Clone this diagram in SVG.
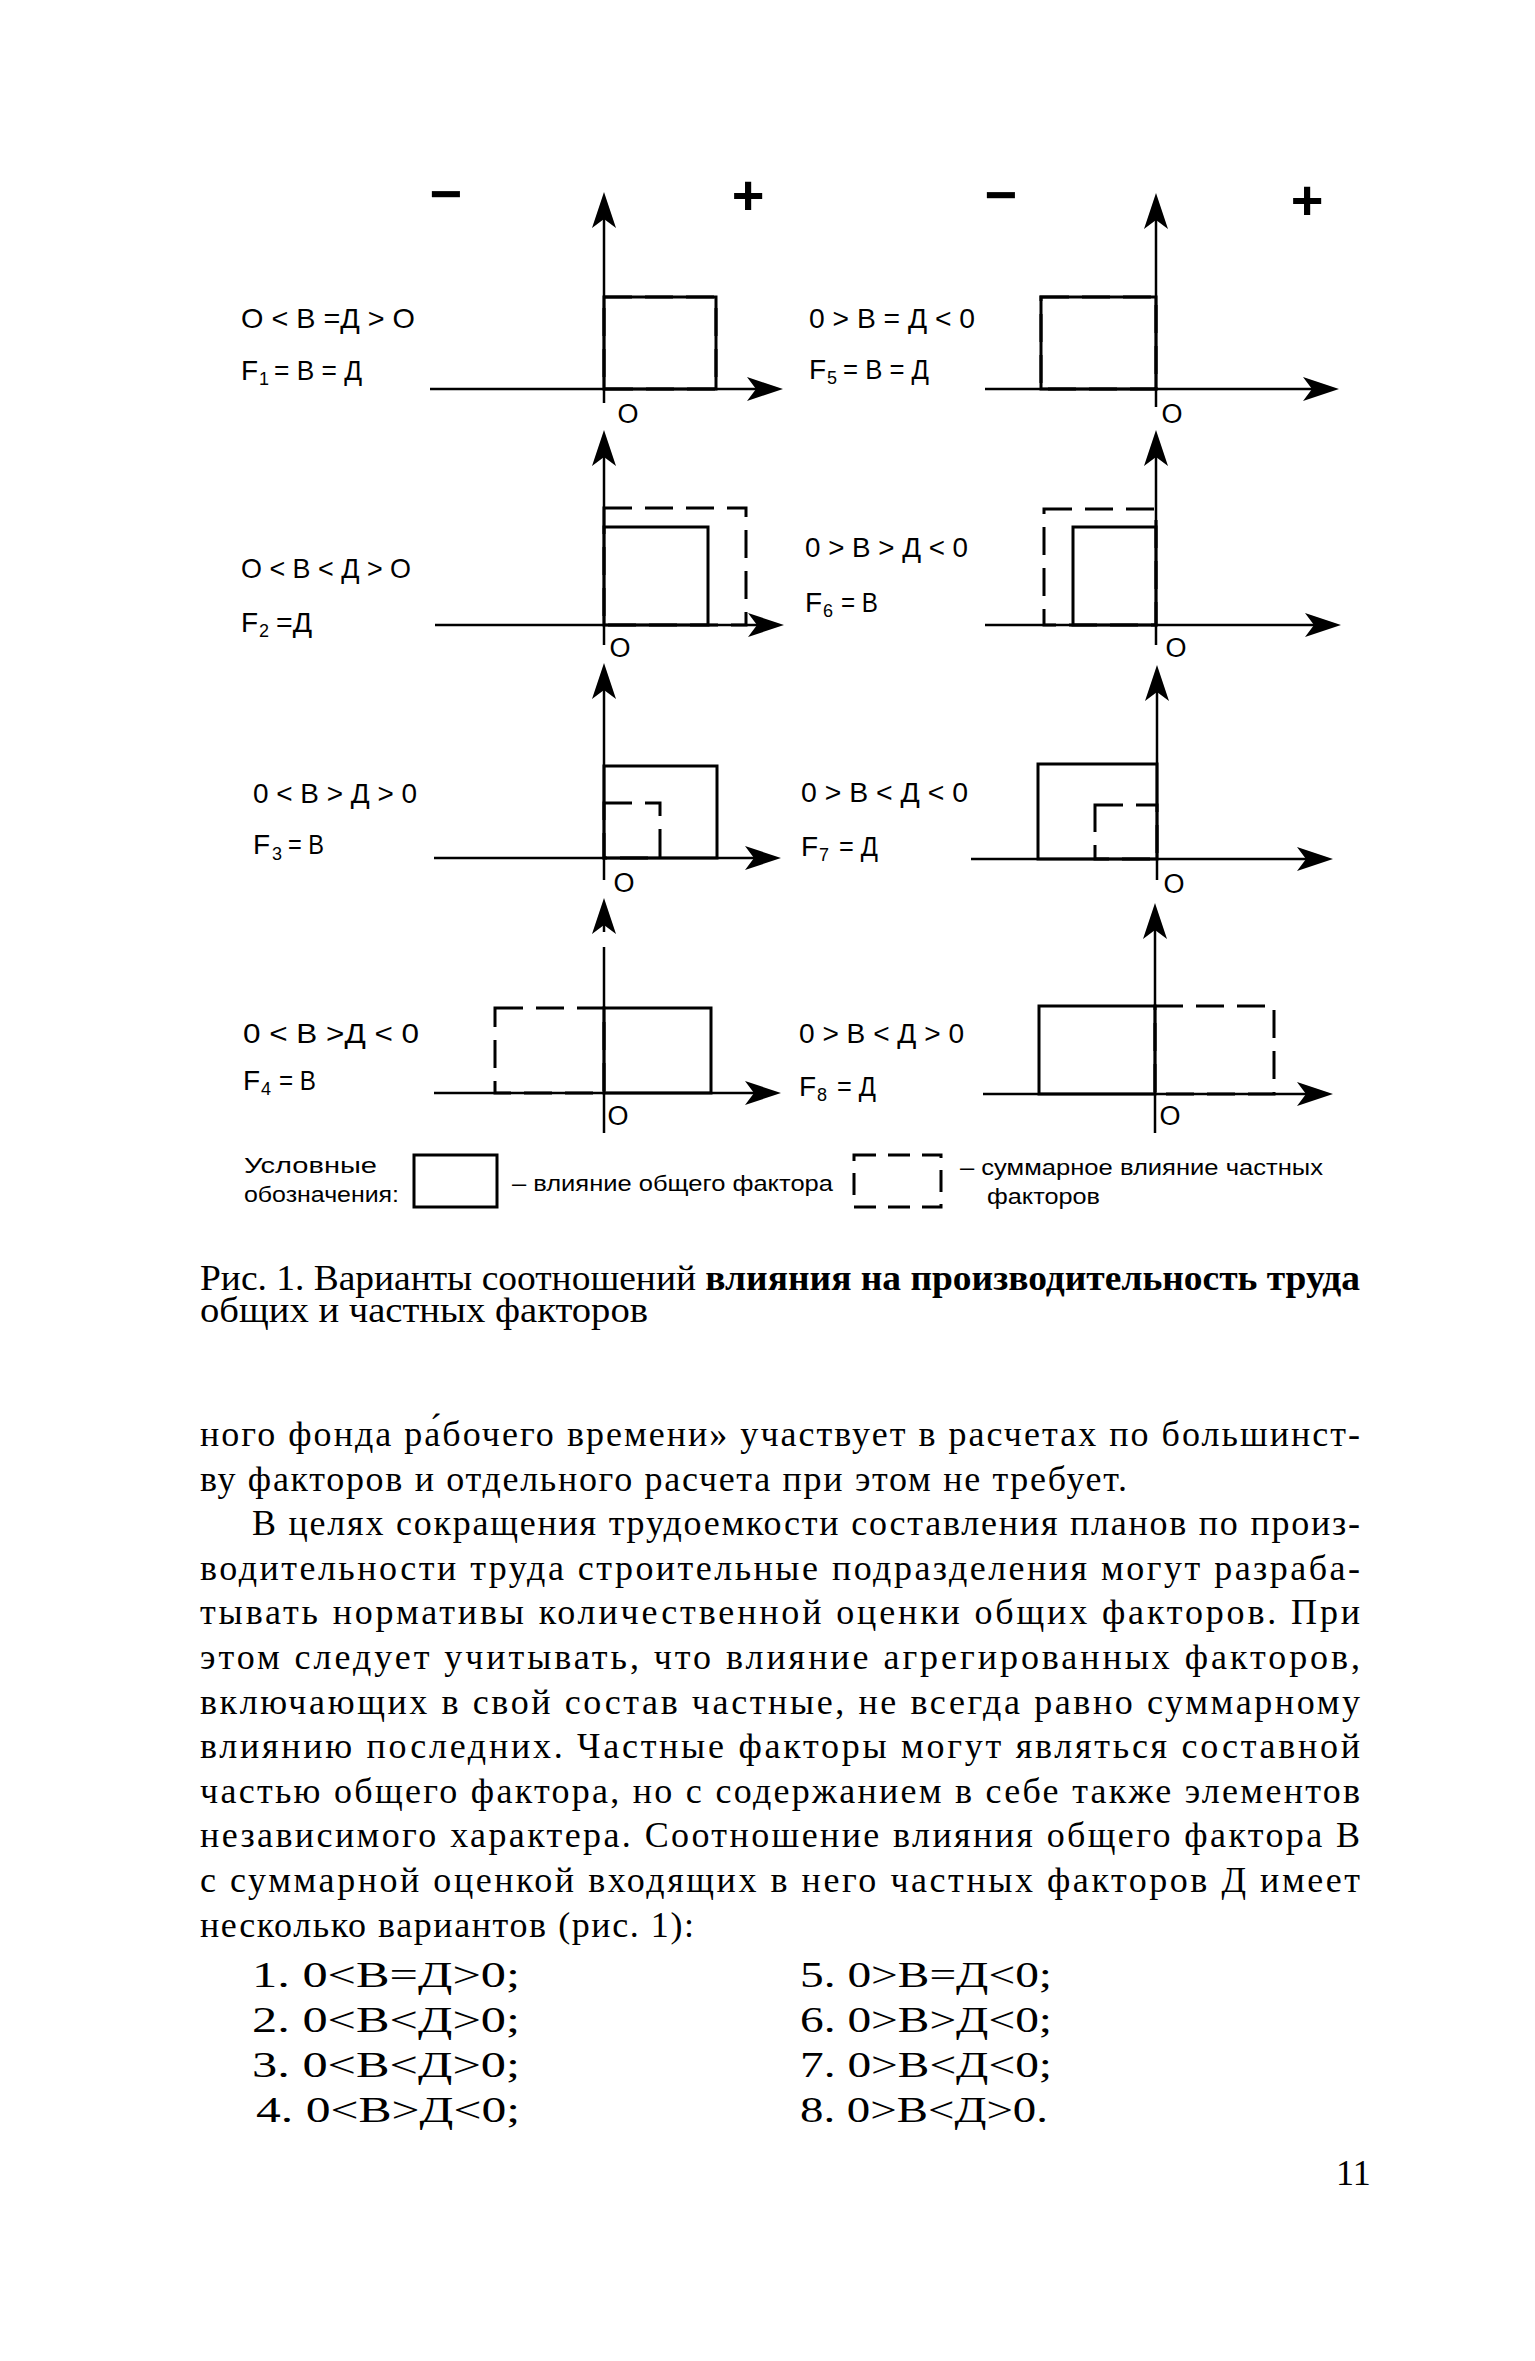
<svg xmlns="http://www.w3.org/2000/svg" width="1535" height="2361" viewBox="0 0 1535 2361">
<style>
.ax{stroke:#000;stroke-width:2.5;fill:none}
.sol{stroke:#000;stroke-width:3;fill:none}
.dsh{stroke:#000;stroke-width:3;fill:none;stroke-dasharray:28 13}
.lbl{font-family:"Liberation Sans",Arial,sans-serif;font-size:28px;fill:#000}
.sub{font-family:"Liberation Sans",Arial,sans-serif;font-size:18px;fill:#000}
.o{font-family:"Liberation Sans",Arial,sans-serif;font-size:27px;fill:#000;text-anchor:middle}
.sg{font-family:"Liberation Sans",Arial,sans-serif;font-size:56px;font-weight:bold;fill:#000;text-anchor:middle}
.leg{font-family:"Liberation Sans",Arial,sans-serif;font-size:22px;fill:#000}
.body{font-family:"Liberation Serif","Times New Roman",serif;font-size:36px;fill:#000}
.cap{font-family:"Liberation Serif","Times New Roman",serif;font-size:36px;fill:#000}
</style>
<defs>
<marker id="ah" viewBox="0 0 36 24" markerWidth="36" markerHeight="24" refX="26" refY="12" orient="auto" markerUnits="userSpaceOnUse">
<path d="M0,0 L36,12 L0,24 L9,12 Z" fill="#000"/>
</marker>
</defs>
<rect width="1535" height="2361" fill="#fff"/>

<g id="signs">
<text class="sg" x="446" y="213">−</text>
<text class="sg" x="748" y="214">+</text>
<text class="sg" x="1001" y="214">−</text>
<text class="sg" x="1307" y="219">+</text>
</g>

<g id="chart1">
<text class="lbl" x="241" y="328" textLength="174" lengthAdjust="spacingAndGlyphs">O &lt; В =Д &gt; O</text>
<text class="lbl" x="241" y="380">F</text><text class="sub" x="259" y="385">1</text>
<text class="lbl" x="274" y="380" textLength="88" lengthAdjust="spacingAndGlyphs">= В = Д</text>
<rect class="sol" x="604" y="297" width="112" height="92"/>
<rect class="dsh" x="604" y="297" width="112" height="92"/>
<text class="o" x="628" y="423">O</text>
</g>

<g id="chart2">
<text class="lbl" x="241" y="578" textLength="170" lengthAdjust="spacingAndGlyphs">O &lt; В &lt; Д &gt; O</text>
<text class="lbl" x="241" y="632">F</text><text class="sub" x="259" y="637">2</text>
<text class="lbl" x="276" y="632" textLength="36" lengthAdjust="spacingAndGlyphs">=Д</text>
<rect class="sol" x="604" y="527" width="104" height="98"/>
<rect class="dsh" x="604" y="508" width="142" height="117"/>
<text class="o" x="620" y="657">O</text>
</g>

<g id="chart3">
<text class="lbl" x="253" y="854">F</text><text class="sub" x="272" y="860">3</text>
<text class="lbl" x="288" y="854" textLength="36" lengthAdjust="spacingAndGlyphs">= В</text>
<text class="lbl" x="253" y="803" textLength="164" lengthAdjust="spacingAndGlyphs">0 &lt; В &gt; Д &gt; 0</text>
<rect class="sol" x="604" y="766" width="113" height="92"/>
<rect class="dsh" x="604" y="803" width="56" height="55"/>
<text class="o" x="624" y="892">O</text>
</g>

<g id="chart4">
<text class="lbl" x="243" y="1043" textLength="176" lengthAdjust="spacingAndGlyphs">0 &lt; В &gt;Д &lt; 0</text>
<text class="lbl" x="243" y="1090">F</text><text class="sub" x="261" y="1095">4</text>
<text class="lbl" x="279" y="1090" textLength="37" lengthAdjust="spacingAndGlyphs">= В</text>
<rect class="sol" x="604" y="1008" width="107" height="85"/>
<rect class="dsh" x="495" y="1008" width="109" height="85"/>
<text class="o" x="618" y="1125">O</text>
</g>

<g id="chart5">
<text class="lbl" x="809" y="328" textLength="166" lengthAdjust="spacingAndGlyphs">0 &gt; В = Д &lt; 0</text>
<text class="lbl" x="809" y="379">F</text><text class="sub" x="827" y="384">5</text>
<text class="lbl" x="843" y="379" textLength="86" lengthAdjust="spacingAndGlyphs">= В = Д</text>
<rect class="sol" x="1041" y="297" width="115" height="92"/>
<rect class="dsh" x="1041" y="297" width="115" height="92"/>
<text class="o" x="1172" y="423">O</text>
</g>

<g id="chart6">
<text class="lbl" x="805" y="557" textLength="163" lengthAdjust="spacingAndGlyphs">0 &gt; В &gt; Д &lt; 0</text>
<text class="lbl" x="805" y="612">F</text><text class="sub" x="823" y="617">6</text>
<text class="lbl" x="841" y="612" textLength="37" lengthAdjust="spacingAndGlyphs">= В</text>
<rect class="sol" x="1073" y="527" width="83" height="98"/>
<rect class="dsh" x="1044" y="509" width="112" height="116"/>
<text class="o" x="1176" y="657">O</text>
</g>

<g id="chart7">
<text class="lbl" x="801" y="802" textLength="167" lengthAdjust="spacingAndGlyphs">0 &gt; В &lt; Д &lt; 0</text>
<text class="lbl" x="801" y="856">F</text><text class="sub" x="819" y="861">7</text>
<text class="lbl" x="839" y="856" textLength="39" lengthAdjust="spacingAndGlyphs">= Д</text>
<rect class="sol" x="1038" y="764" width="119" height="95"/>
<rect class="dsh" x="1095" y="805" width="62" height="54"/>
<text class="o" x="1174" y="893">O</text>
</g>

<g id="chart8">
<text class="lbl" x="799" y="1043" textLength="165" lengthAdjust="spacingAndGlyphs">0 &gt; В &lt; Д &gt; 0</text>
<text class="lbl" x="799" y="1096">F</text><text class="sub" x="817" y="1101">8</text>
<text class="lbl" x="837" y="1096" textLength="39" lengthAdjust="spacingAndGlyphs">= Д</text>
<rect class="sol" x="1039" y="1006" width="116" height="88"/>
<rect class="dsh" x="1155" y="1006" width="119" height="88"/>
<text class="o" x="1170" y="1125">O</text>
</g>

<g id="connectors">
<line class="ax" x1="604" y1="403" x2="604" y2="202" marker-end="url(#ah)"/>
<line class="ax" x1="430" y1="389" x2="773" y2="389" marker-end="url(#ah)"/>
<line class="ax" x1="1156" y1="407" x2="1156" y2="203" marker-end="url(#ah)"/>
<line class="ax" x1="985" y1="389" x2="1329" y2="389" marker-end="url(#ah)"/>
<line class="ax" x1="604" y1="645" x2="604" y2="440" marker-end="url(#ah)"/>
<line class="ax" x1="435" y1="625" x2="774" y2="625" marker-end="url(#ah)"/>
<line class="ax" x1="1156" y1="645" x2="1156" y2="440" marker-end="url(#ah)"/>
<line class="ax" x1="985" y1="625" x2="1331" y2="625" marker-end="url(#ah)"/>
<line class="ax" x1="604" y1="880" x2="604" y2="673" marker-end="url(#ah)"/>
<line class="ax" x1="434" y1="858" x2="771" y2="858" marker-end="url(#ah)"/>
<line class="ax" x1="1157" y1="880" x2="1157" y2="675" marker-end="url(#ah)"/>
<line class="ax" x1="971" y1="859" x2="1323" y2="859" marker-end="url(#ah)"/>
<line class="ax" x1="604" y1="1133" x2="604" y2="947"/>
<line class="ax" x1="604" y1="932" x2="604" y2="908" marker-end="url(#ah)"/>
<line class="ax" x1="434" y1="1093" x2="771" y2="1093" marker-end="url(#ah)"/>
<line class="ax" x1="1155" y1="1133" x2="1155" y2="913" marker-end="url(#ah)"/>
<line class="ax" x1="983" y1="1094" x2="1323" y2="1094" marker-end="url(#ah)"/>
</g>

<g id="legend">
<text class="leg" x="244" y="1173" textLength="133" lengthAdjust="spacingAndGlyphs">Условные</text>
<text class="leg" x="244" y="1202" textLength="155" lengthAdjust="spacingAndGlyphs">обозначения:</text>
<rect class="sol" x="414" y="1155" width="83" height="52"/>
<text class="leg" x="512" y="1191" textLength="321" lengthAdjust="spacingAndGlyphs">– влияние общего фактора</text>
<rect x="854" y="1155" width="87" height="52" fill="none" stroke="#000" stroke-width="3" stroke-dasharray="22 12"/>
<text class="leg" x="960" y="1175" textLength="363" lengthAdjust="spacingAndGlyphs">– суммарное влияние частных</text>
<text class="leg" x="987" y="1204" textLength="113" lengthAdjust="spacingAndGlyphs">факторов</text>
</g>

<g id="caption">
<text class="cap" x="200" y="1290" textLength="1160" lengthAdjust="spacingAndGlyphs">Рис. 1. Варианты соотношений <tspan font-weight="bold">влияния на производительность труда</tspan></text>
<text class="cap" x="200" y="1322" textLength="448" lengthAdjust="spacingAndGlyphs">общих и частных факторов</text>
</g>

<g id="bodytext">
<text class="body" x="200" y="1446" textLength="1160" lengthAdjust="spacing">ного фонда ра́бочего времени» участвует в расчетах по большинст-</text>
<text class="body" x="200" y="1491" textLength="927" lengthAdjust="spacing">ву факторов и отдельного расчета при этом не требует.</text>
<text class="body" x="252" y="1535" textLength="1108" lengthAdjust="spacing">В целях сокращения трудоемкости составления планов по произ-</text>
<text class="body" x="200" y="1580" textLength="1160" lengthAdjust="spacing">водительности труда строительные подразделения могут разраба-</text>
<text class="body" x="200" y="1624" textLength="1160" lengthAdjust="spacing">тывать нормативы количественной оценки общих факторов. При</text>
<text class="body" x="200" y="1669" textLength="1160" lengthAdjust="spacing">этом следует учитывать, что влияние  агрегированных  факторов,</text>
<text class="body" x="200" y="1714" textLength="1160" lengthAdjust="spacing">включающих в свой состав частные, не всегда равно суммарному</text>
<text class="body" x="200" y="1758" textLength="1160" lengthAdjust="spacing">влиянию последних. Частные факторы могут являться составной</text>
<text class="body" x="200" y="1803" textLength="1160" lengthAdjust="spacing">частью общего фактора, но с содержанием в себе также элементов</text>
<text class="body" x="200" y="1847" textLength="1160" lengthAdjust="spacing">независимого характера. Соотношение влияния общего фактора В</text>
<text class="body" x="200" y="1892" textLength="1160" lengthAdjust="spacing">с суммарной оценкой входящих в него частных факторов Д имеет</text>
<text class="body" x="200" y="1937" textLength="494" lengthAdjust="spacing">несколько вариантов (рис. 1):</text>
</g>

<g id="list">
<text class="body" x="252" y="1987" textLength="268" lengthAdjust="spacingAndGlyphs">1. 0&lt;В=Д&gt;0;</text>
<text class="body" x="252" y="2032" textLength="268" lengthAdjust="spacingAndGlyphs">2. 0&lt;В&lt;Д&gt;0;</text>
<text class="body" x="252" y="2077" textLength="268" lengthAdjust="spacingAndGlyphs">3. 0&lt;В&lt;Д&gt;0;</text>
<text class="body" x="256" y="2122" textLength="264" lengthAdjust="spacingAndGlyphs">4. 0&lt;В&gt;Д&lt;0;</text>
<text class="body" x="800" y="1987" textLength="252" lengthAdjust="spacingAndGlyphs">5. 0&gt;В=Д&lt;0;</text>
<text class="body" x="800" y="2032" textLength="252" lengthAdjust="spacingAndGlyphs">6. 0&gt;В&gt;Д&lt;0;</text>
<text class="body" x="800" y="2077" textLength="252" lengthAdjust="spacingAndGlyphs">7. 0&gt;В&lt;Д&lt;0;</text>
<text class="body" x="800" y="2122" textLength="248" lengthAdjust="spacingAndGlyphs">8. 0&gt;В&lt;Д&gt;0.</text>
<text class="body" x="1336" y="2185">11</text>
</g>
</svg>
